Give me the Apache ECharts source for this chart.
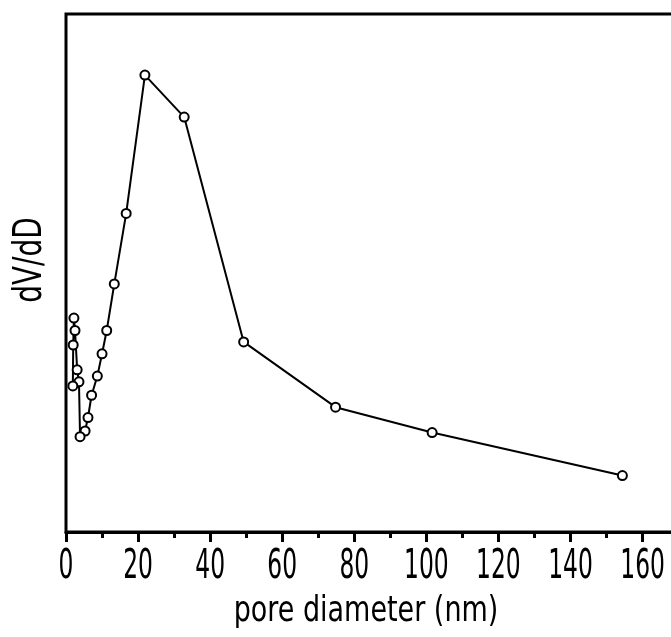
<!DOCTYPE html>
<html>
<head>
<meta charset="utf-8">
<script src="https://cdn.jsdelivr.net/npm/echarts@6/dist/echarts.min.js"></script>
<style>
  html, body { margin: 0; padding: 0; background: #fff; }
  #chart { width: 671px; height: 637px; }
</style>
</head>
<body>
<div id="chart"></div>
<script>
// Pore size distribution (BJH-style), listed from largest to smallest diameter
const poreDiameter = [154.4, 101.6, 74.8, 49.3, 32.8, 21.9, 16.7, 13.4, 11.3, 10.0, 8.7, 7.1, 6.1, 5.3, 3.9, 3.6, 3.1, 2.5, 2.2, 2.0, 1.9];
const dVdD =         [10.9,  19.2,  24.1, 36.7, 80.1, 88.2, 61.5, 47.9, 38.9, 34.4, 30.1, 26.4, 22.1, 19.5, 18.4, 29.0, 31.3, 38.9, 41.3, 36.1, 28.2];
const xTickValues = [0, 20, 40, 60, 80, 100, 120, 140, 160];
const xTitle = 'pore diameter (nm)';
const yTitle = 'dV/dD';

// Tall, narrow lettering: a condensed face stretched vertically
const FONT_FAMILY = "'DejaVu Sans Condensed', 'Liberation Sans Narrow', sans-serif";

const points = poreDiameter.map((d, i) => [d, dVdD[i]]);

const chart = echarts.init(document.getElementById('chart'), null, { renderer: 'canvas' });
chart.setOption({
  animation: false,
  backgroundColor: '#fff',
  grid: {
    left: 66, top: 14, right: -4, bottom: 105,
    outerBoundsMode: 'none',
    containLabel: false,
    show: true, borderColor: '#000', borderWidth: 3, backgroundColor: 'transparent'
  },
  xAxis: {
    type: 'value',
    min: 0, max: 169, interval: 20,
    axisLine: { show: true, lineStyle: { color: '#000', width: 3 } },
    axisTick: { show: true, inside: false, length: 10, lineStyle: { color: '#000', width: 3 } },
    minorTick: { show: true, splitNumber: 2, length: 6, lineStyle: { color: '#000', width: 3 } },
    axisLabel: { show: false },
    splitLine: { show: false }
  },
  yAxis: {
    type: 'value',
    min: 0, max: 100,
    axisLine: { show: false },
    axisTick: { show: false },
    axisLabel: { show: false },
    splitLine: { show: false }
  },
  series: [{
    type: 'line',
    data: points,
    showAllSymbol: true,
    symbol: 'circle',
    symbolSize: 9,
    lineStyle: { color: '#000', width: 2 },
    itemStyle: { color: '#fff', borderColor: '#000', borderWidth: 2 },
    z: 3
  }]
});

// Tick labels and axis titles, placed with the axis scales
function stretchedText(text, x, y, size, sy, rotation) {
  return {
    type: 'text',
    x: x, y: y,
    scaleX: 1, scaleY: sy,
    rotation: rotation || 0,
    silent: true,
    style: {
      text: text,
      fill: '#000',
      font: size + 'px ' + FONT_FAMILY,
      textAlign: 'center',
      textVerticalAlign: 'middle'
    }
  };
}

const labelY = 568;
const graphics = xTickValues.map(v =>
  stretchedText(String(v), chart.convertToPixel({ xAxisIndex: 0 }, v), labelY, 26, 1.55)
);
const gridLeft = chart.convertToPixel({ xAxisIndex: 0 }, 0);
graphics.push(stretchedText(xTitle, 366, 612, 30, 1.2));
graphics.push(stretchedText(yTitle, 31, 260, 31, 1.25, Math.PI / 2));

chart.setOption({ graphic: { elements: graphics } });
</script>
</body>
</html>
